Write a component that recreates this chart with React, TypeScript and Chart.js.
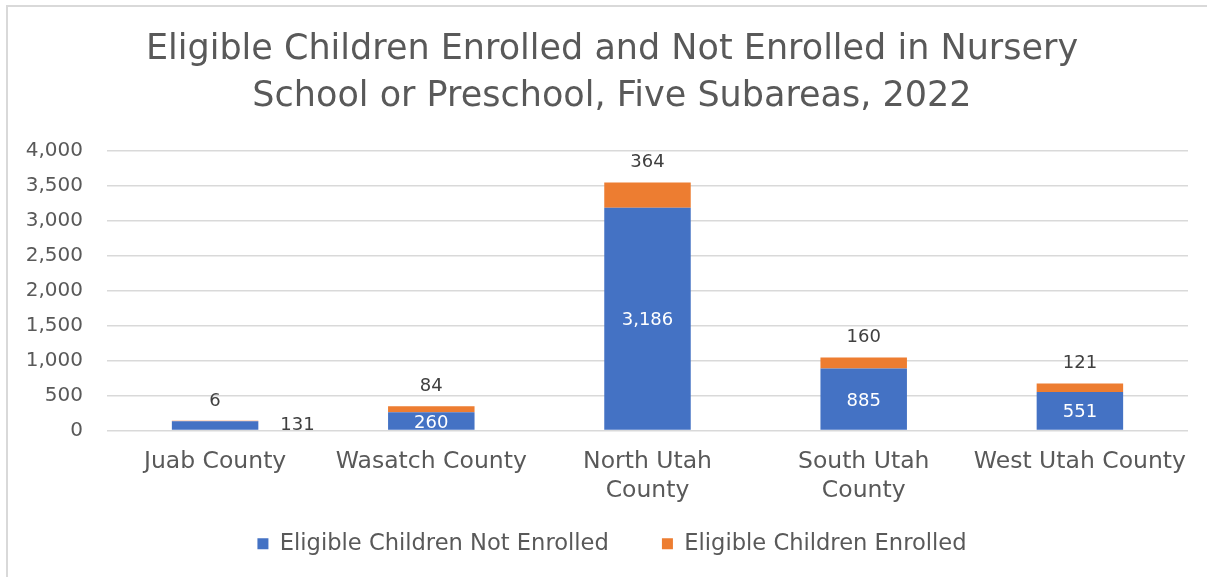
import React, { useEffect, useRef } from "react";
import { Chart, registerables } from "chart.js";

Chart.register(...registerables);

const categories: (string | string[])[] = [
  "Juab County",
  "Wasatch County",
  ["North Utah", "County"],
  ["South Utah", "County"],
  "West Utah County",
];
const notEnrolled = [131, 260, 3186, 885, 551];
const enrolled = [6, 84, 364, 160, 121];
const titleLines = [
  "Eligible Children Enrolled and Not Enrolled in Nursery",
  "School or Preschool, Five Subareas, 2022",
];
const seriesNames = ["Eligible Children Not Enrolled", "Eligible Children Enrolled"];

const FONT = "'DejaVu Sans', sans-serif";
const fmt = (v: number) => v.toLocaleString("en-US");

const labelPlugin = {
  id: "barLabels",
  afterDatasetsDraw(chart: any) {
    const ctx = chart.ctx;
    ctx.save();
    ctx.font = `18px ${FONT}`;
    const m0 = chart.getDatasetMeta(0);
    const m1 = chart.getDatasetMeta(1);
    m0.data.forEach((el: any, i: number) => {
      const v = chart.data.datasets[0].data[i] as number;
      const h = Math.abs(el.base - el.y);
      ctx.textBaseline = "middle";
      if (h > 14) {
        ctx.fillStyle = "#ffffff";
        ctx.textAlign = "center";
        ctx.fillText(fmt(v), el.x, (el.y + el.base) / 2 + 2);
      } else {
        ctx.fillStyle = "#404040";
        ctx.textAlign = "left";
        ctx.fillText(fmt(v), el.x + el.width / 2 + 22, (el.y + el.base) / 2);
      }
    });
    m1.data.forEach((el: any, i: number) => {
      const v = chart.data.datasets[1].data[i] as number;
      ctx.fillStyle = "#404040";
      ctx.textAlign = "center";
      ctx.textBaseline = "middle";
      ctx.fillText(fmt(v), el.x, el.y - 20);
    });
    ctx.restore();
  },
};

export default function App() {
  const ref = useRef<HTMLCanvasElement | null>(null);
  useEffect(() => {
    document.body.style.margin = "0";
    if (!ref.current) return;
    const chart = new Chart(ref.current, {
      type: "bar",
      data: {
        labels: categories,
        datasets: [
          {
            label: seriesNames[0],
            data: notEnrolled,
            backgroundColor: "#4472C4",
            barPercentage: 0.4,
            categoryPercentage: 1,
          },
          {
            label: seriesNames[1],
            data: enrolled,
            backgroundColor: "#ED7D31",
            barPercentage: 0.4,
            categoryPercentage: 1,
          },
        ],
      },
      options: {
        animation: false,
        responsive: false,
        maintainAspectRatio: false,
        layout: { padding: { left: 0, right: -17, top: 0, bottom: 12 } },
        plugins: {
          title: {
            display: true,
            text: titleLines,
            color: "#595959",
            font: { family: FONT, size: 35, weight: "normal", lineHeight: 1.343 },
            padding: { top: 26, bottom: 31 },
          },
          legend: {
            position: "bottom",
            labels: {
              color: "#595959",
              font: { family: FONT, size: 22.6 },
              boxWidth: 11,
              boxHeight: 11,
              padding: 10,
              generateLabels: (chart: any) => {
                const items = Chart.defaults.plugins.legend.labels.generateLabels(chart);
                items.forEach((it: any, i: number) => {
                  if (i < items.length - 1) it.text = it.text + "      ";
                });
                return items;
              },
            },
          },
          tooltip: { enabled: false },
        },
        scales: {
          x: {
            stacked: true,
            grid: { display: false, drawTicks: false },
            border: { display: false },
            afterFit: (s: any) => {
              s.height = 92;
            },
            ticks: {
              color: "#595959",
              font: { family: FONT, size: 23.5, lineHeight: 1.24 },
              padding: 17,
              maxRotation: 0,
              autoSkip: false,
            },
          },
          y: {
            stacked: true,
            min: 0,
            max: 4000,
            afterFit: (s: any) => {
              s.width = 107;
            },
            grid: { color: "#d9d9d9", lineWidth: 1.5, drawTicks: false },
            border: { display: false },
            ticks: {
              stepSize: 500,
              color: "#595959",
              font: { family: FONT, size: 20 },
              padding: 24,
              callback: (v: any) => fmt(Number(v)),
            },
          },
          ySpacer: {
            type: "linear",
            position: "right",
            display: true,
            min: 0,
            max: 4000,
            afterFit: (s: any) => {
              s.width = 36;
            },
            grid: { display: false, drawTicks: false },
            border: { display: false },
            ticks: { display: false },
          },
        },
      },
      plugins: [labelPlugin],
    });
    return () => chart.destroy();
  }, []);
  return (
    <div style={{ position: "relative", width: 1207, height: 577, overflow: "hidden", background: "#fff" }}>
      <canvas ref={ref} width={1207} height={577} style={{ display: "block" }} />
      <div
        style={{
          position: "absolute",
          left: 6,
          top: 5,
          width: 1300,
          height: 700,
          borderTop: "2px solid #d9d9d9",
          borderLeft: "2px solid #d9d9d9",
          pointerEvents: "none",
        }}
      />
    </div>
  );
}
